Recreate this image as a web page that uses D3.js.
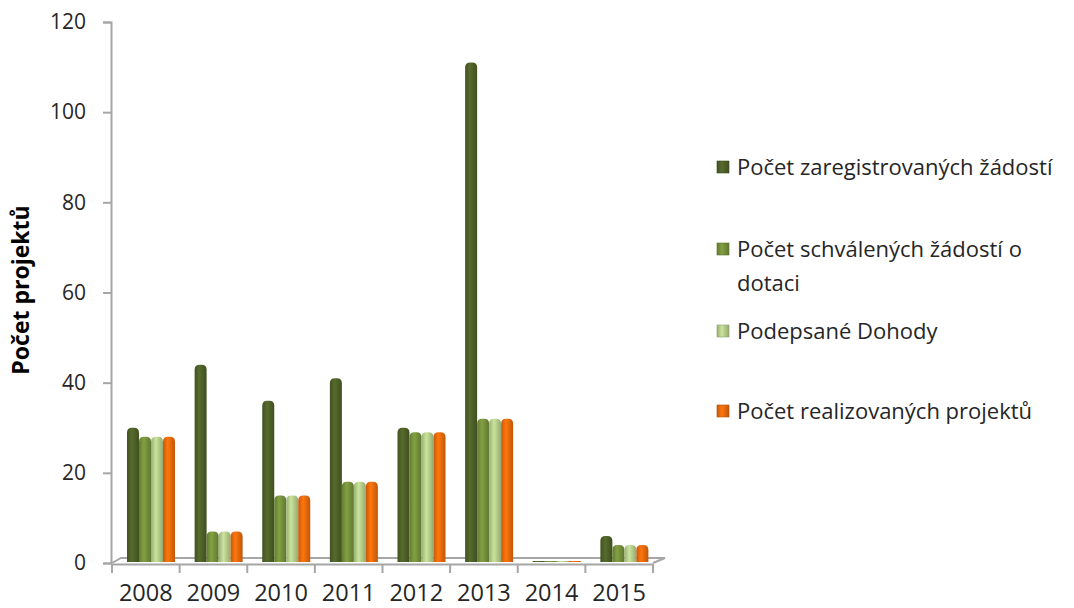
<!DOCTYPE html>
<html>
<head>
<meta charset="utf-8">
<script src="https://cdn.jsdelivr.net/npm/d3@7"></script>
<style>
  body { margin: 0; background: #fff; }
  svg { font-family: "Open Sans", sans-serif; }
</style>
</head>
<body>
<svg width="1074" height="608"></svg>
<script>
// data
var years = ["2008", "2009", "2010", "2011", "2012", "2013", "2014", "2015"];
var seriesNames = [
    "Počet zaregistrovaných žádostí",
    "Počet schválených žádostí o dotaci",
    "Podepsané Dohody",
    "Počet realizovaných projektů"
];
var registered = [30, 44, 36, 41, 30, 111, 0, 6];
var approved   = [28, 7, 15, 18, 29, 32, 0, 4];
var signed     = [28, 7, 15, 18, 29, 32, 0, 4];
var realized   = [28, 7, 15, 18, 29, 32, 0, 4];
var yTicks = [0, 20, 40, 60, 80, 100, 120];

var colors = ["#4f6228", "#77933c", "#b9d18e", "#ec6c0c"];
var allSeries = [registered, approved, signed, realized];

var svg = d3.select("svg");

// scales
var x0 = d3.scaleBand().domain(years).range([112, 653]);
var x1 = d3.scaleBand().domain(d3.range(4)).range([15, 63]);
var y = d3.scaleLinear().domain([0, 120]).range([563, 22]);

// cylinder gradients
var defs = svg.append("defs");
colors.forEach(function(c, i) {
    var g = defs.append("linearGradient").attr("id", "grad" + i)
        .attr("x1", "0%").attr("x2", "100%").attr("y1", "0%").attr("y2", "0%");
    var base = d3.color(c);
    g.append("stop").attr("offset", "0%").attr("stop-color", base.darker(0.5));
    g.append("stop").attr("offset", "40%").attr("stop-color", base.brighter(0.25));
    g.append("stop").attr("offset", "100%").attr("stop-color", base.darker(0.6));
});

// floor (3d base)
var floorBack = 558;
svg.append("path")
    .attr("d", "M112,563 L121," + floorBack + " L665," + floorBack + " L653,563")
    .attr("fill", "none")
    .attr("stroke", "#a6a6a6")
    .attr("stroke-width", 2);

// y axis
var yAxis = svg.append("g")
    .attr("transform", "translate(111,0)")
    .call(d3.axisLeft(y).tickValues(yTicks).tickSize(8).tickPadding(17));
yAxis.select(".domain").attr("stroke", "#a6a6a6").attr("stroke-width", 2);
yAxis.selectAll(".tick line").attr("stroke", "#a6a6a6").attr("stroke-width", 2);
yAxis.selectAll(".tick text").attr("font-size", 21).attr("fill", "#262626")
    .attr("font-family", "Open Sans");

// x axis
var xAxis = svg.append("g")
    .attr("transform", "translate(0,564)")
    .call(d3.axisBottom(x0).tickSize(0).tickPadding(20));
xAxis.select(".domain").attr("stroke", "#a6a6a6").attr("stroke-width", 2);
xAxis.selectAll(".tick text").attr("font-size", 23.5).attr("fill", "#262626")
    .attr("font-family", "Open Sans");
// separators between categories
svg.append("g").selectAll("line")
    .data(years.concat(["end"]))
    .enter().append("line")
    .attr("x1", function(d, i) { return 112 + i * x0.bandwidth(); })
    .attr("x2", function(d, i) { return 112 + i * x0.bandwidth(); })
    .attr("y1", 564).attr("y2", 573)
    .attr("stroke", "#a6a6a6").attr("stroke-width", 2);

// bars with rounded tops
function barPath(x, w, top, bottom) {
    var r = Math.min(w / 2, 5, Math.max(bottom - top, 0));
    if (bottom - top < 1) {
        return "M" + x + "," + (bottom - 1) + " h" + w + " v1 h" + (-w) + "Z";
    }
    return "M" + x + "," + bottom +
        " L" + x + "," + (top + r) +
        " Q" + x + "," + top + " " + (x + r) + "," + top +
        " L" + (x + w - r) + "," + top +
        " Q" + (x + w) + "," + top + " " + (x + w) + "," + (top + r) +
        " L" + (x + w) + "," + bottom + "Z";
}

var groups = svg.append("g").selectAll("g")
    .data(years)
    .enter().append("g")
    .attr("transform", function(d) { return "translate(" + x0(d) + ",0)"; });

groups.selectAll("path")
    .data(function(d, i) { return allSeries.map(function(s, k) { return { k: k, v: s[i] }; }); })
    .enter().append("path")
    .attr("d", function(d) {
        return barPath(x1(d.k), x1.bandwidth(), y(d.v), 562);
    })
    .attr("fill", function(d) { return "url(#grad" + d.k + ")"; });

// y axis title
svg.append("text")
    .attr("transform", "translate(29,290) rotate(-90)")
    .attr("text-anchor", "middle")
    .attr("font-size", 23)
    .attr("font-weight", "bold")
    .attr("fill", "#000")
    .text("Počet projektů");

// legend
var legendRows = [
    { k: 0, lines: ["Počet zaregistrovaných žádostí"], y: 167 },
    { k: 1, lines: ["Počet schválených žádostí o", "dotaci"], y: 249 },
    { k: 2, lines: ["Podepsané Dohody"], y: 331 },
    { k: 3, lines: ["Počet realizovaných projektů"], y: 411 }
];
var legend = svg.append("g");
legendRows.forEach(function(row) {
    legend.append("rect")
        .attr("x", 717).attr("y", row.y - 6)
        .attr("width", 12).attr("height", 12)
        .attr("fill", "url(#grad" + row.k + ")")
        .attr("stroke", d3.color(colors[row.k]).darker(0.8))
        .attr("stroke-width", 0.6);
    var t = legend.append("text")
        .attr("x", 737).attr("y", row.y)
        .attr("font-size", 22)
        .attr("fill", "#262626");
    row.lines.forEach(function(line, j) {
        t.append("tspan").attr("x", 737).attr("dy", j === 0 ? "0.35em" : 34).text(line);
    });
});
</script>
</body>
</html>
